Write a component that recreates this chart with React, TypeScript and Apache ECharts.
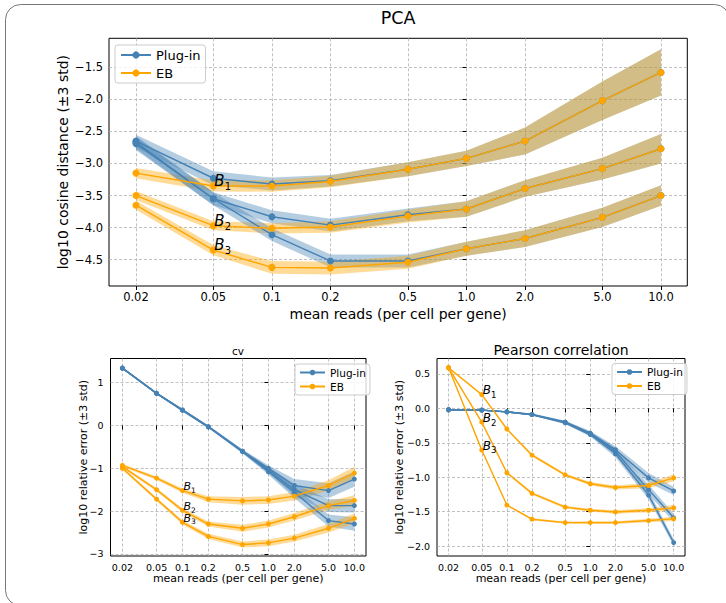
import React, { useEffect, useRef } from 'react';
import * as echarts from 'echarts';

// ---------- data ----------
const xValues = [0.02, 0.05, 0.1, 0.2, 0.5, 1.0, 2.0, 5.0, 10.0];
const xTickLabels = ['0.02', '0.05', '0.1', '0.2', '0.5', '1.0', '2.0', '5.0', '10.0'];

// PCA panel (log10 cosine distance)
const pcaPlugB1 = [-2.65, -3.23, -3.32, -3.27, -3.09, -2.92, -2.65, -2.02, -1.58];
const pcaPlugB2 = [-2.67, -3.55, -3.83, -3.96, -3.80, -3.71, -3.39, -3.08, -2.77];
const pcaPlugB3 = [-2.69, -3.55, -4.11, -4.52, -4.52, -4.33, -4.17, -3.84, -3.50];
const pcaEbB1 = [-3.15, -3.35, -3.35, -3.28, -3.09, -2.92, -2.65, -2.02, -1.58];
const pcaEbB2 = [-3.50, -3.97, -4.01, -3.99, -3.82, -3.71, -3.39, -3.08, -2.77];
const pcaEbB3 = [-3.65, -4.35, -4.62, -4.63, -4.54, -4.33, -4.17, -3.84, -3.50];
const pcaPlugB1Err = [0.10, 0.11, 0.10, 0.09, 0.11, 0.12, 0.21, 0.30, 0.36];
const pcaPlugB2Err = [0.10, 0.10, 0.10, 0.10, 0.10, 0.12, 0.13, 0.17, 0.23];
const pcaPlugB3Err = [0.10, 0.10, 0.10, 0.10, 0.10, 0.11, 0.13, 0.15, 0.16];
const pcaEbB1Err = [0.08, 0.085, 0.09, 0.09, 0.11, 0.12, 0.21, 0.30, 0.36];
const pcaEbB2Err = [0.07, 0.07, 0.08, 0.09, 0.10, 0.12, 0.13, 0.17, 0.23];
const pcaEbB3Err = [0.07, 0.08, 0.10, 0.10, 0.10, 0.11, 0.13, 0.15, 0.16];
const pcaYTicks = [-4.5, -4.0, -3.5, -3.0, -2.5, -2.0, -1.5];
const pcaYLabels = ['\u22124.5', '\u22124.0', '\u22123.5', '\u22123.0', '\u22122.5', '\u22122.0', '\u22121.5'];

// cv panel (log10 relative error)
const cvPlugB1 = [1.34, 0.75, 0.36, -0.03, -0.60, -1.00, -1.40, -1.52, -1.25];
const cvPlugB2 = [1.34, 0.75, 0.36, -0.03, -0.60, -1.04, -1.50, -1.87, -1.87];
const cvPlugB3 = [1.34, 0.75, 0.36, -0.03, -0.61, -1.08, -1.56, -2.22, -2.30];
const cvEbB1 = [-0.93, -1.23, -1.52, -1.72, -1.76, -1.74, -1.65, -1.40, -1.11];
const cvEbB2 = [-0.96, -1.50, -1.98, -2.30, -2.40, -2.30, -2.13, -1.87, -1.75];
const cvEbB3 = [-1.00, -1.72, -2.26, -2.59, -2.78, -2.74, -2.63, -2.40, -2.17];
const cvPlugB1Err = [0.02, 0.02, 0.03, 0.03, 0.04, 0.07, 0.15, 0.17, 0.18];
const cvPlugB2Err = [0.02, 0.02, 0.03, 0.03, 0.04, 0.07, 0.14, 0.15, 0.16];
const cvPlugB3Err = [0.02, 0.02, 0.03, 0.03, 0.04, 0.07, 0.13, 0.14, 0.16];
const cvEbB1Err = [0.03, 0.04, 0.05, 0.07, 0.09, 0.09, 0.10, 0.12, 0.15];
const cvEbB2Err = [0.03, 0.04, 0.05, 0.06, 0.08, 0.08, 0.09, 0.10, 0.12];
const cvEbB3Err = [0.03, 0.04, 0.05, 0.06, 0.07, 0.08, 0.08, 0.10, 0.12];
const cvYTicks = [-3, -2, -1, 0, 1];
const cvYLabels = ['\u22123', '\u22122', '\u22121', '0', '1'];

// Pearson correlation panel
const prPlugB1 = [-0.02, -0.025, -0.05, -0.09, -0.20, -0.36, -0.60, -1.01, -1.20];
const prPlugB2 = [-0.02, -0.025, -0.05, -0.09, -0.20, -0.37, -0.625, -1.18, -1.59];
const prPlugB3 = [-0.02, -0.025, -0.05, -0.09, -0.21, -0.38, -0.66, -1.26, -1.95];
const prEbB1 = [0.59, 0.20, -0.30, -0.68, -0.965, -1.095, -1.15, -1.12, -1.01];
const prEbB2 = [0.59, -0.20, -0.935, -1.235, -1.435, -1.48, -1.505, -1.48, -1.445];
const prEbB3 = [0.59, -0.605, -1.405, -1.61, -1.66, -1.66, -1.66, -1.63, -1.605];
const prPlugB1Err = [0.01, 0.01, 0.01, 0.015, 0.02, 0.03, 0.05, 0.07, 0.06];
const prPlugB2Err = [0.01, 0.01, 0.01, 0.015, 0.02, 0.03, 0.05, 0.07, 0.06];
const prPlugB3Err = [0.01, 0.01, 0.01, 0.015, 0.02, 0.03, 0.05, 0.06, 0.05];
const prEbB1Err = [0.01, 0.01, 0.015, 0.02, 0.02, 0.025, 0.03, 0.04, 0.05];
const prEbB2Err = [0.01, 0.01, 0.015, 0.02, 0.02, 0.02, 0.025, 0.03, 0.04];
const prEbB3Err = [0.01, 0.01, 0.01, 0.015, 0.015, 0.02, 0.02, 0.025, 0.03];
const prYTicks = [-2.0, -1.5, -1.0, -0.5, 0.0, 0.5];
const prYLabels = ['\u22122.0', '\u22121.5', '\u22121.0', '\u22120.5', '0.0', '0.5'];

const seriesNames = ['Plug-in', 'EB'];
const annotNames = ['1', '2', '3'];

// ---------- style ----------
const BLUE = '#4682b4';
const ORANGE = '#ffa500';
const BLUE_BAND = 'rgba(70,130,180,0.4)';
const ORANGE_BAND = 'rgba(255,165,0,0.4)';
const FONT = 'DejaVu Sans';
const FRAME = '#777777';

const logX = xValues.map((v) => Math.log10(v));
const xTickVals = logX;
const X_MIN = -1.8375;
const X_MAX = 1.1355;

function lookup(vals: number[], labels: string[]) {
  return (v: number) => {
    const i = vals.findIndex((t) => Math.abs(t - v) < 1e-6);
    return i >= 0 ? labels[i] : '';
  };
}

function makeBand(gi: number, y: number[], e: number[], color: string) {
  return {
    type: 'custom',
    xAxisIndex: gi,
    yAxisIndex: gi,
    silent: true,
    z: 1,
    data: [[logX[0], y[0]]],
    renderItem: (_params: any, api: any) => {
      const pts: number[][] = [];
      for (let i = 0; i < logX.length; i++) pts.push(api.coord([logX[i], y[i] + e[i]]));
      for (let i = logX.length - 1; i >= 0; i--) pts.push(api.coord([logX[i], y[i] - e[i]]));
      return { type: 'polygon', shape: { points: pts }, style: { fill: color } };
    },
  };
}

function makeLine(
  gi: number,
  name: string,
  y: number[],
  color: string,
  size: number,
  z: number,
  annot?: { idx: number; sub: string; big: number; small: number; pad: number; lh: number }
) {
  const data = y.map((v, i) => {
    const item: any = { value: [logX[i], v] };
    if (annot && i === annot.idx) {
      const baseline = annot.lh / 2 + 0.346 * annot.big;
      item.label = {
        show: true,
        position: [size / 2, size / 2],
        align: 'left',
        verticalAlign: 'top',
        offset: [1, -baseline],
        formatter: '{b|B}{s|' + annot.sub + '}',
        rich: {
          b: { fontFamily: FONT, fontStyle: 'italic', fontSize: annot.big, lineHeight: annot.lh, color: '#000' },
          s: {
            fontFamily: FONT,
            fontSize: annot.small,
            lineHeight: annot.lh,
            padding: [annot.pad, 0, 0, 0],
            color: '#000',
          },
        },
      };
    }
    return item;
  });
  return {
    type: 'line',
    name,
    xAxisIndex: gi,
    yAxisIndex: gi,
    data,
    z,
    symbol: 'circle',
    symbolSize: size,
    showSymbol: true,
    lineStyle: { color, width: 1.4 },
    itemStyle: { color },
    emphasis: { disabled: true },
    silent: true,
  };
}

function panel(
  gi: number,
  plug: number[][],
  plugE: number[][],
  eb: number[][],
  ebE: number[][],
  size: number,
  annotIdx: number,
  big: number,
  small: number,
  pad: number,
  lh: number
) {
  const s: any[] = [];
  for (let b = 0; b < 3; b++) {
    s.push(makeBand(gi, plug[b], plugE[b], BLUE_BAND));
    s.push(makeBand(gi, eb[b], ebE[b], ORANGE_BAND));
  }
  for (let b = 0; b < 3; b++) s.push(makeLine(gi, seriesNames[0], plug[b], BLUE, size, 3));
  for (let b = 0; b < 3; b++)
    s.push(
      makeLine(gi, seriesNames[1], eb[b], ORANGE, size, 4, {
        idx: annotIdx,
        sub: annotNames[b],
        big,
        small,
        pad,
        lh,
      })
    );
  return s;
}

function xAxis(gi: number, fontSize: number, margin: number, nameSize: number, nameGap: number) {
  return {
    type: 'value',
    gridIndex: gi,
    min: X_MIN,
    max: X_MAX,
    name: 'mean reads (per cell per gene)',
    nameLocation: 'middle',
    nameGap,
    nameMoveOverlap: false,
    nameTextStyle: { fontFamily: FONT, fontSize: nameSize, color: '#000' },
    axisLine: { show: false },
    axisTick: { show: true, customValues: xTickVals, length: 4, lineStyle: { color: '#000', width: 1 } },
    axisLabel: {
      show: true,
      customValues: xTickVals,
      formatter: lookup(xTickVals, xTickLabels),
      fontFamily: FONT,
      fontSize,
      color: '#000',
      margin,
      hideOverlap: false,
    },
    splitLine: { show: true, lineStyle: { color: '#b0b0b0', type: [3, 2], width: 0.8 } },
  };
}

function yAxis(
  gi: number,
  min: number,
  max: number,
  ticks: number[],
  labels: string[],
  name: string,
  fontSize: number,
  margin: number,
  nameSize: number,
  nameGap: number
) {
  return {
    type: 'value',
    gridIndex: gi,
    min,
    max,
    name,
    nameLocation: 'middle',
    nameGap,
    nameMoveOverlap: false,
    nameTextStyle: { fontFamily: FONT, fontSize: nameSize, color: '#000' },
    axisLine: { show: false },
    axisTick: { show: true, customValues: ticks, length: 4, lineStyle: { color: '#000', width: 1 } },
    axisLabel: {
      show: true,
      customValues: ticks,
      formatter: lookup(ticks, labels),
      fontFamily: FONT,
      fontSize,
      color: '#000',
      margin,
      hideOverlap: false,
    },
    splitLine: { show: true, lineStyle: { color: '#b0b0b0', type: [3, 2], width: 0.8 } },
  };
}

function legend(left: number, top: number, itemWidth: number, itemHeight: number, fontSize: number, lineHeight: number, gap: number, pad: number[]) {
  return {
    show: true,
    left,
    top,
    orient: 'vertical',
    data: seriesNames,
    itemWidth,
    itemHeight,
    itemGap: gap,
    padding: pad,
    backgroundColor: 'rgba(255,255,255,0.8)',
    borderColor: '#cccccc',
    borderWidth: 1,
    borderRadius: 3,
    selectedMode: false,
    textStyle: { fontFamily: FONT, fontSize, lineHeight, color: '#000' },
  };
}

export default function App() {
  const ref = useRef<HTMLDivElement>(null);

  useEffect(() => {
    if (!ref.current) return;
    const chart = echarts.init(ref.current, null, { renderer: 'svg' });
    const grids = [
      { left: 109, top: 38.3, width: 578.3, height: 247.7 },
      { left: 110.5, top: 358.5, width: 255.5, height: 197.5 },
      { left: 437, top: 358.5, width: 248, height: 197.5 },
    ].map((g) => ({
      ...g,
      show: true,
      borderColor: '#000',
      borderWidth: 1,
      backgroundColor: 'transparent',
      containLabel: false,
      outerBoundsMode: 'none',
    }));

    const series = [
      ...panel(
        0,
        [pcaPlugB1, pcaPlugB2, pcaPlugB3],
        [pcaPlugB1Err, pcaPlugB2Err, pcaPlugB3Err],
        [pcaEbB1, pcaEbB2, pcaEbB3],
        [pcaEbB1Err, pcaEbB2Err, pcaEbB3Err],
        7,
        1,
        15,
        10,
        12,
        20
      ),
      ...panel(
        1,
        [cvPlugB1, cvPlugB2, cvPlugB3],
        [cvPlugB1Err, cvPlugB2Err, cvPlugB3Err],
        [cvEbB1, cvEbB2, cvEbB3],
        [cvEbB1Err, cvEbB2Err, cvEbB3Err],
        5,
        2,
        11,
        7.5,
        7,
        13
      ),
      ...panel(
        2,
        [prPlugB1, prPlugB2, prPlugB3],
        [prPlugB1Err, prPlugB2Err, prPlugB3Err],
        [prEbB1, prEbB2, prEbB3],
        [prEbB1Err, prEbB2Err, prEbB3Err],
        5,
        1,
        12,
        8.5,
        9,
        16
      ),
    ];

    const frameStyle = { stroke: FRAME, lineWidth: 1, fill: 'none' };
    const R = 15;
    const L = 5.5;
    const T = 4.5;
    const RGT = 729.5;
    const BOT = 605.5;

    chart.setOption({
      animation: false,
      backgroundColor: '#ffffff',
      grid: grids,
      xAxis: [xAxis(0, 11.5, 5, 14, 20.5), xAxis(1, 9.5, 6.5, 11, 17), xAxis(2, 9.5, 6.5, 11, 17)],
      yAxis: [
        yAxis(0, -4.91, -1.048, pcaYTicks, pcaYLabels, 'log10 cosine distance (\u00b13 std)', 11.5, 6, 14, 39),
        yAxis(1, -3.047, 1.565, cvYTicks, cvYLabels, 'log10 relative error (\u00b13 std)', 9.5, 7, 11, 22),
        yAxis(2, -2.145, 0.725, prYTicks, prYLabels, 'log10 relative error (\u00b13 std)', 9.5, 7, 11, 32),
      ],
      legend: [
        legend(115, 45, 30, 9, 13, 14, 4, [3, 5, 3, 5]),
        legend(295, 364, 25, 7, 10.5, 11, 3, [3, 4, 3, 4]),
        legend(612, 363.5, 25, 7, 10.5, 11, 3, [3, 4, 3, 4]),
      ],
      graphic: [
        {
          type: 'group',
          silent: true,
          children: [
            { type: 'line', shape: { x1: L + R, y1: T, x2: RGT - R, y2: T }, style: frameStyle },
            { type: 'line', shape: { x1: L, y1: T + R, x2: L, y2: BOT - R }, style: frameStyle },
            {
              type: 'arc',
              shape: { cx: L + R, cy: T + R, r: R, startAngle: Math.PI, endAngle: Math.PI * 1.5, clockwise: true },
              style: frameStyle,
            },
            {
              type: 'arc',
              shape: { cx: RGT - R, cy: T + R, r: R, startAngle: Math.PI * 1.5, endAngle: Math.PI * 2, clockwise: true },
              style: frameStyle,
            },
            {
              type: 'arc',
              shape: { cx: L + R, cy: BOT - R, r: R, startAngle: Math.PI * 0.5, endAngle: Math.PI, clockwise: true },
              style: frameStyle,
            },
          ],
        },
        {
          type: 'text',
          x: 398,
          y: 17.5,
          style: { text: 'PCA', fontFamily: FONT, fontSize: 17.5, fill: '#000', align: 'center', verticalAlign: 'middle' },
          silent: true,
        },
        {
          type: 'text',
          x: 238,
          y: 351,
          style: { text: 'cv', fontFamily: FONT, fontSize: 10.5, fill: '#000', align: 'center', verticalAlign: 'middle' },
          silent: true,
        },
        {
          type: 'text',
          x: 561,
          y: 350,
          style: {
            text: 'Pearson correlation',
            fontFamily: FONT,
            fontSize: 14,
            fill: '#000',
            align: 'center',
            verticalAlign: 'middle',
          },
          silent: true,
        },
      ],
      series,
    });
    return () => chart.dispose();
  }, []);

  return (
    <div
      ref={ref}
      style={{ position: 'fixed', left: 0, top: 0, width: 726, height: 603, background: '#fff' }}
    />
  );
}
